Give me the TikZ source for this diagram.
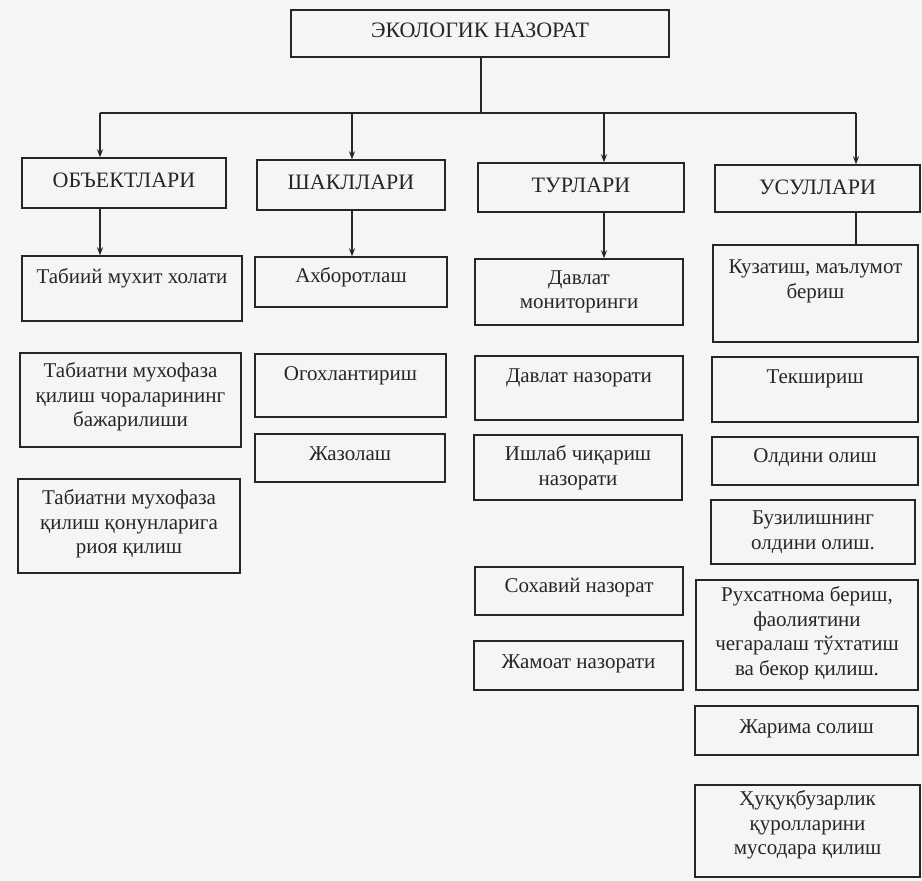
\documentclass[tikz,border=0pt]{standalone}
\usepackage{fontspec}
\setmainfont{Liberation Serif}
\usetikzlibrary{arrows.meta}
\definecolor{paper}{HTML}{F5F5F5}
\definecolor{ink}{HTML}{262626}
\begin{document}
\begin{tikzpicture}[x=1pt,y=-1pt,
  box/.style={draw=ink, line width=1.4pt, inner sep=0pt},
  lbl/.style={font=\fontsize{21}{24.5}\selectfont, text=ink, align=center, inner sep=0pt},
  caplbl/.style={lbl, font=\fontsize{22}{24.5}\selectfont},
  conn/.style={draw=ink, line width=1.4pt},
  arr/.style={conn, -{Stealth[length=8pt,width=6pt]}}]
\fill[paper] (0,0) rectangle (922,881);
\useasboundingbox (0,0) rectangle (922,881);

% top
\node[box, minimum width=378pt, minimum height=47pt,
  label={[caplbl,yshift=3pt]center:{ЭКОЛОГИК НАЗОРАТ}}] (top) at (480,33.5) {};

% level 2
\node[box, minimum width=204pt, minimum height=50pt,
  label={[caplbl,yshift=3pt]center:{ОБЪЕКТЛАРИ}}] (obj) at (124,183) {};
\node[box, minimum width=188pt, minimum height=50pt,
  label={[caplbl,yshift=3pt]center:{ШАКЛЛАРИ}}] (shak) at (351,185) {};
\node[box, minimum width=206pt, minimum height=49pt,
  label={[caplbl,yshift=2pt]center:{ТУРЛАРИ}}] (tur) at (581,187.5) {};
\node[box, minimum width=205pt, minimum height=47pt,
  label={[caplbl,yshift=1pt]center:{УСУЛЛАРИ}}] (usul) at (817.5,188.5) {};

% column 1
\node[box, minimum width=220pt, minimum height=65pt,
  label={[lbl,yshift=10pt]center:{Табиий мухит холати}}] (tab1) at (132,288.5) {};
\node[box, minimum width=221pt, minimum height=94pt,
  label={[lbl,yshift=3pt]center:{Табиатни мухофаза\\қилиш чораларининг\\бажарилиши}}] (tab2) at (130.5,400) {};
\node[box, minimum width=222pt, minimum height=94pt,
  label={[lbl,yshift=2pt]center:{Табиатни мухофаза\\қилиш қонунларига\\риоя қилиш}}] (tab3) at (129,526) {};

% column 2
\node[box, minimum width=192pt, minimum height=50pt,
  label={[lbl,yshift=5pt]center:{Ахборотлаш}}] (ahbor) at (351,282) {};
\node[box, minimum width=191pt, minimum height=63pt,
  label={[lbl,yshift=10pt]center:{Огохлантириш}}] (ogox) at (350.5,385.5) {};
\node[box, minimum width=190pt, minimum height=48pt,
  label={[lbl,yshift=4pt]center:{Жазолаш}}] (jazo) at (350,458) {};

% column 3
\node[box, minimum width=208pt, minimum height=66pt,
  label={[lbl,yshift=0pt]center:{Давлат\\мониторинги}}] (davmon) at (579,292) {};
\node[box, minimum width=208pt, minimum height=64pt,
  label={[lbl,yshift=10pt]center:{Давлат назорати}}] (davnaz) at (579,388) {};
\node[box, minimum width=208pt, minimum height=65pt,
  label={[lbl,yshift=0pt]center:{Ишлаб чиқариш\\назорати}}] (ishlab) at (578,467.5) {};
\node[box, minimum width=208pt, minimum height=48pt,
  label={[lbl,yshift=3pt]center:{Сохавий назорат}}] (sohav) at (579,591) {};
\node[box, minimum width=209pt, minimum height=49pt,
  label={[lbl,yshift=2pt]center:{Жамоат назорати}}] (jamoat) at (578.5,665.5) {};

% column 4
\node[box, minimum width=205pt, minimum height=97pt,
  label={[lbl,yshift=12pt]center:{Кузатиш, маълумот\\бериш}}] (kuzat) at (815.5,293.5) {};
\node[box, minimum width=206pt, minimum height=65pt,
  label={[lbl,yshift=11pt]center:{Текшириш}}] (tekshir) at (815,389.5) {};
\node[box, minimum width=206pt, minimum height=48pt,
  label={[lbl,yshift=3pt]center:{Олдини олиш}}] (oldini) at (815,461) {};
\node[box, minimum width=204pt, minimum height=64pt,
  label={[lbl,yshift=0pt]center:{Бузилишнинг\\олдини олиш.}}] (buzil) at (813,532) {};
\node[box, minimum width=222pt, minimum height=110pt,
  label={[lbl,yshift=2pt]center:{Рухсатнома бериш,\\фаолиятини\\чегаралаш тўхтатиш\\ва бекор қилиш.}}] (ruhsat) at (807,635) {};
\node[box, minimum width=223pt, minimum height=49pt,
  label={[lbl,yshift=2pt]center:{Жарима солиш}}] (jarima) at (806.5,730.5) {};
\node[box, minimum width=225pt, minimum height=92pt,
  label={[lbl,yshift=6pt]center:{Ҳуқуқбузарлик\\қуролларини\\мусодара қилиш}}] (huquq) at (807.5,831) {};

% connectors
\coordinate (j) at (481,113);
\coordinate (b1) at (100,113);
\coordinate (b2) at (352,113);
\coordinate (b3) at (604,113);
\coordinate (b4) at (856,113);
\draw[conn] (top.south -| j) -- (j);
\draw[conn] (b1) -- (b4);
\draw[arr] (b1) -- (obj.north -| b1);
\draw[arr] (b2) -- (shak.north -| b2);
\draw[arr] (b3) -- (tur.north -| b3);
\draw[arr] (b4) -- (usul.north -| b4);
\draw[arr] (obj.south -| b1) -- (tab1.north -| b1);
\draw[arr] (shak.south -| b2) -- (ahbor.north -| b2);
\draw[arr] (tur.south -| b3) -- (davmon.north -| b3);
\draw[conn] (usul.south -| b4) -- (kuzat.north -| b4);
\end{tikzpicture}
\end{document}
